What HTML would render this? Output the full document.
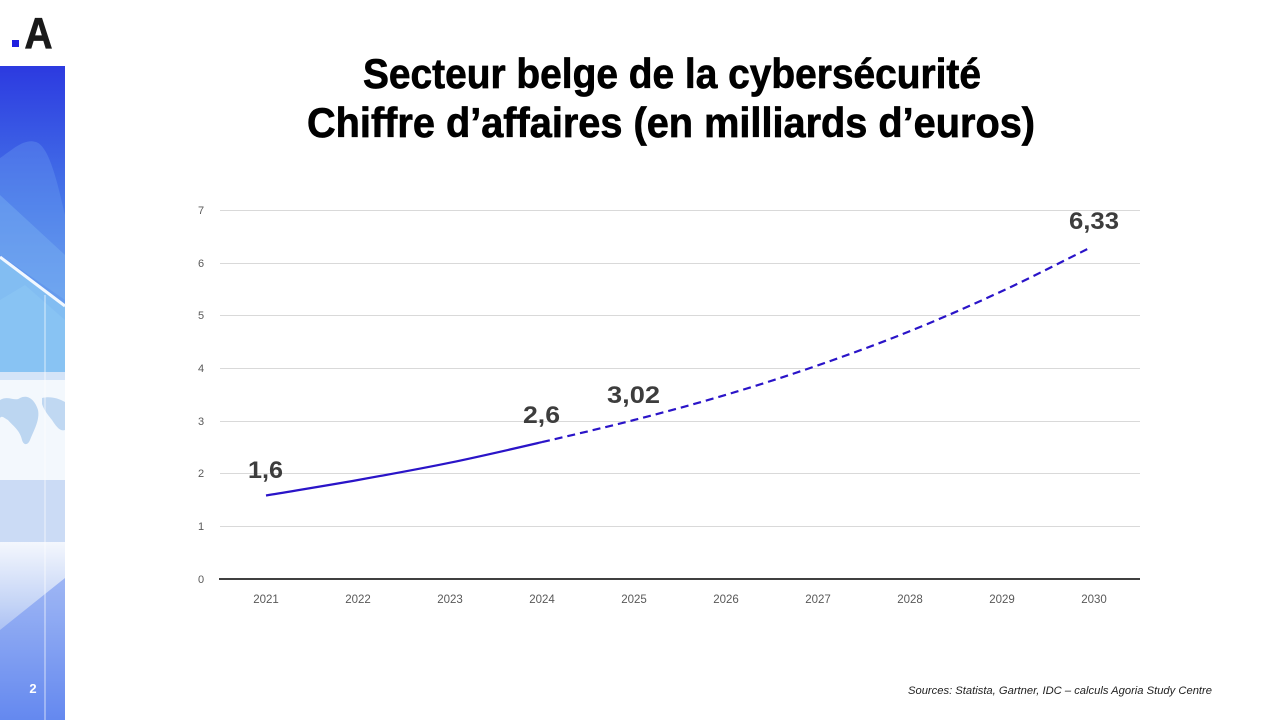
<!DOCTYPE html>
<html><head><meta charset="utf-8"><style>
html,body{margin:0;padding:0;background:#fff;}
body{width:1280px;height:720px;overflow:hidden;}
svg{display:block;}
text{font-family:"Liberation Sans",sans-serif;}
</style></head><body>
<svg width="1280" height="720" viewBox="0 0 1280 720" xmlns="http://www.w3.org/2000/svg">
<defs>
<linearGradient id="gTop" x1="0" y1="0" x2="0" y2="1">
<stop offset="0" stop-color="#2c3ae0"/>
<stop offset="0.45" stop-color="#4677e8"/>
<stop offset="1" stop-color="#78b6f0"/>
</linearGradient>
<linearGradient id="gBot" x1="0" y1="0" x2="0" y2="1">
<stop offset="0" stop-color="#f4f7fd"/>
<stop offset="0.35" stop-color="#c4d4f6"/>
<stop offset="1" stop-color="#5a80ee"/>
</linearGradient>
</defs>
<!-- sidebar -->
<rect x="0" y="66" width="65" height="306" fill="url(#gTop)"/>
<path d="M0,158 C12,150 24,138 36,142 C48,146 56,175 65,215 L65,372 L0,372 Z" fill="#6d9ff0" opacity="0.35"/>
<path d="M0,195 L65,255 L65,300 L0,255 Z" fill="#7eb4f2" opacity="0.4"/>
<path d="M0,258 L65,306 L65,372 L0,372 Z" fill="#82bdf2"/>
<path d="M0,300 L25,285 L65,320 L65,372 L0,372 Z" fill="#8cc6f4" opacity="0.6"/>
<line x1="0" y1="257" x2="65" y2="306" stroke="#f2f8ff" stroke-width="3"/>
<rect x="0" y="372" width="65" height="8" fill="#d4e4f8"/>
<rect x="0" y="380" width="65" height="100" fill="#f3f8fd"/>
<path d="M0,400 C8,395 15,402 20,398 C28,394 35,400 38,410 C40,420 34,430 30,440 C28,445 24,446 22,440 C20,430 12,425 8,420 C4,418 2,415 0,418 Z" fill="#bcd6f1"/>
<path d="M42,398 C50,396 58,398 65,402 L65,430 C60,432 56,426 52,420 C48,415 44,410 42,404 Z" fill="#c0d8f2"/>
<rect x="0" y="480" width="65" height="62" fill="#cbdbf5"/>
<rect x="0" y="542" width="65" height="178" fill="url(#gBot)"/>
<path d="M0,630 L65,578 L65,720 L0,720 Z" fill="#6d90f0" opacity="0.55"/>
<line x1="45" y1="295" x2="45" y2="720" stroke="#ffffff" stroke-width="2" opacity="0.35"/>
<text x="33" y="693" font-size="13" font-weight="bold" fill="#ffffff" text-anchor="middle">2</text>
<!-- logo -->
<rect x="12" y="40" width="7" height="7" fill="#2020e0"/>
<text x="38.5" y="48" font-size="44" font-weight="bold" fill="#1a1a1a" text-anchor="middle" textLength="28" lengthAdjust="spacingAndGlyphs" stroke="#1a1a1a" stroke-width="0.8">A</text>
<!-- title -->
<g font-size="42" font-weight="bold" fill="#000" text-anchor="middle" stroke="#000" stroke-width="0.7">
<text x="672" y="88" textLength="618" lengthAdjust="spacingAndGlyphs">Secteur belge de la cybersécurité</text>
<text x="671" y="137" textLength="728" lengthAdjust="spacingAndGlyphs">Chiffre d’affaires (en milliards d’euros)</text>
</g>
<!-- grid -->
<g stroke="#d9d9d9" stroke-width="1">
<line x1="220" y1="210.5" x2="1140" y2="210.5"/>
<line x1="220" y1="263.5" x2="1140" y2="263.5"/>
<line x1="220" y1="315.5" x2="1140" y2="315.5"/>
<line x1="220" y1="368.5" x2="1140" y2="368.5"/>
<line x1="220" y1="421.5" x2="1140" y2="421.5"/>
<line x1="220" y1="473.5" x2="1140" y2="473.5"/>
<line x1="220" y1="526.5" x2="1140" y2="526.5"/>
</g>
<line x1="219" y1="579" x2="1140" y2="579" stroke="#000" stroke-width="1.5"/>
<!-- y ticks -->
<g font-size="11" fill="#595959" text-anchor="middle">
<text x="201" y="214">7</text>
<text x="201" y="267">6</text>
<text x="201" y="319">5</text>
<text x="201" y="372">4</text>
<text x="201" y="425">3</text>
<text x="201" y="477">2</text>
<text x="201" y="530">1</text>
<text x="201" y="583">0</text>
</g>
<!-- x ticks -->
<g font-size="11.5" fill="#595959" text-anchor="middle">
<text x="266" y="603">2021</text>
<text x="358" y="603">2022</text>
<text x="450" y="603">2023</text>
<text x="542" y="603">2024</text>
<text x="634" y="603">2025</text>
<text x="726" y="603">2026</text>
<text x="818" y="603">2027</text>
<text x="910" y="603">2028</text>
<text x="1002" y="603">2029</text>
<text x="1094" y="603">2030</text>
</g>
<!-- series -->
<path d="M266,495.5 C296.67,490.33 327.33,485.47 358,480 C388.67,474.53 419.33,469.02 450,462.7 C480.67,456.38 511.33,449.22 542,442.1" fill="none" stroke="#2a14c8" stroke-width="2.2"/>
<path d="M542,442.1 C572.67,434.98 603.33,427.88 634,420 C664.67,412.12 695.33,403.92 726,394.8 C756.67,385.68 787.33,375.92 818,365.3 C848.67,354.68 879.33,343.47 910,331.1 C940.67,318.73 971.33,305.32 1002,291.1 C1032.67,276.88 1063.33,260.9 1090,247.8" fill="none" stroke="#2a14c8" stroke-width="2.2" stroke-dasharray="8,5"/>
<!-- data labels -->
<g font-size="24" font-weight="bold" fill="#3d3d3d" text-anchor="middle">
<text x="265.5" y="478" textLength="35" lengthAdjust="spacingAndGlyphs">1,6</text>
<text x="541.5" y="423" textLength="37" lengthAdjust="spacingAndGlyphs">2,6</text>
<text x="633.5" y="403" textLength="53" lengthAdjust="spacingAndGlyphs">3,02</text>
<text x="1094" y="229" textLength="50" lengthAdjust="spacingAndGlyphs">6,33</text>
</g>
<!-- source -->
<text x="1212" y="694" font-size="11" font-style="italic" fill="#222" text-anchor="end" textLength="304" lengthAdjust="spacingAndGlyphs">Sources: Statista, Gartner, IDC – calculs Agoria Study Centre</text>
</svg>
</body></html>
